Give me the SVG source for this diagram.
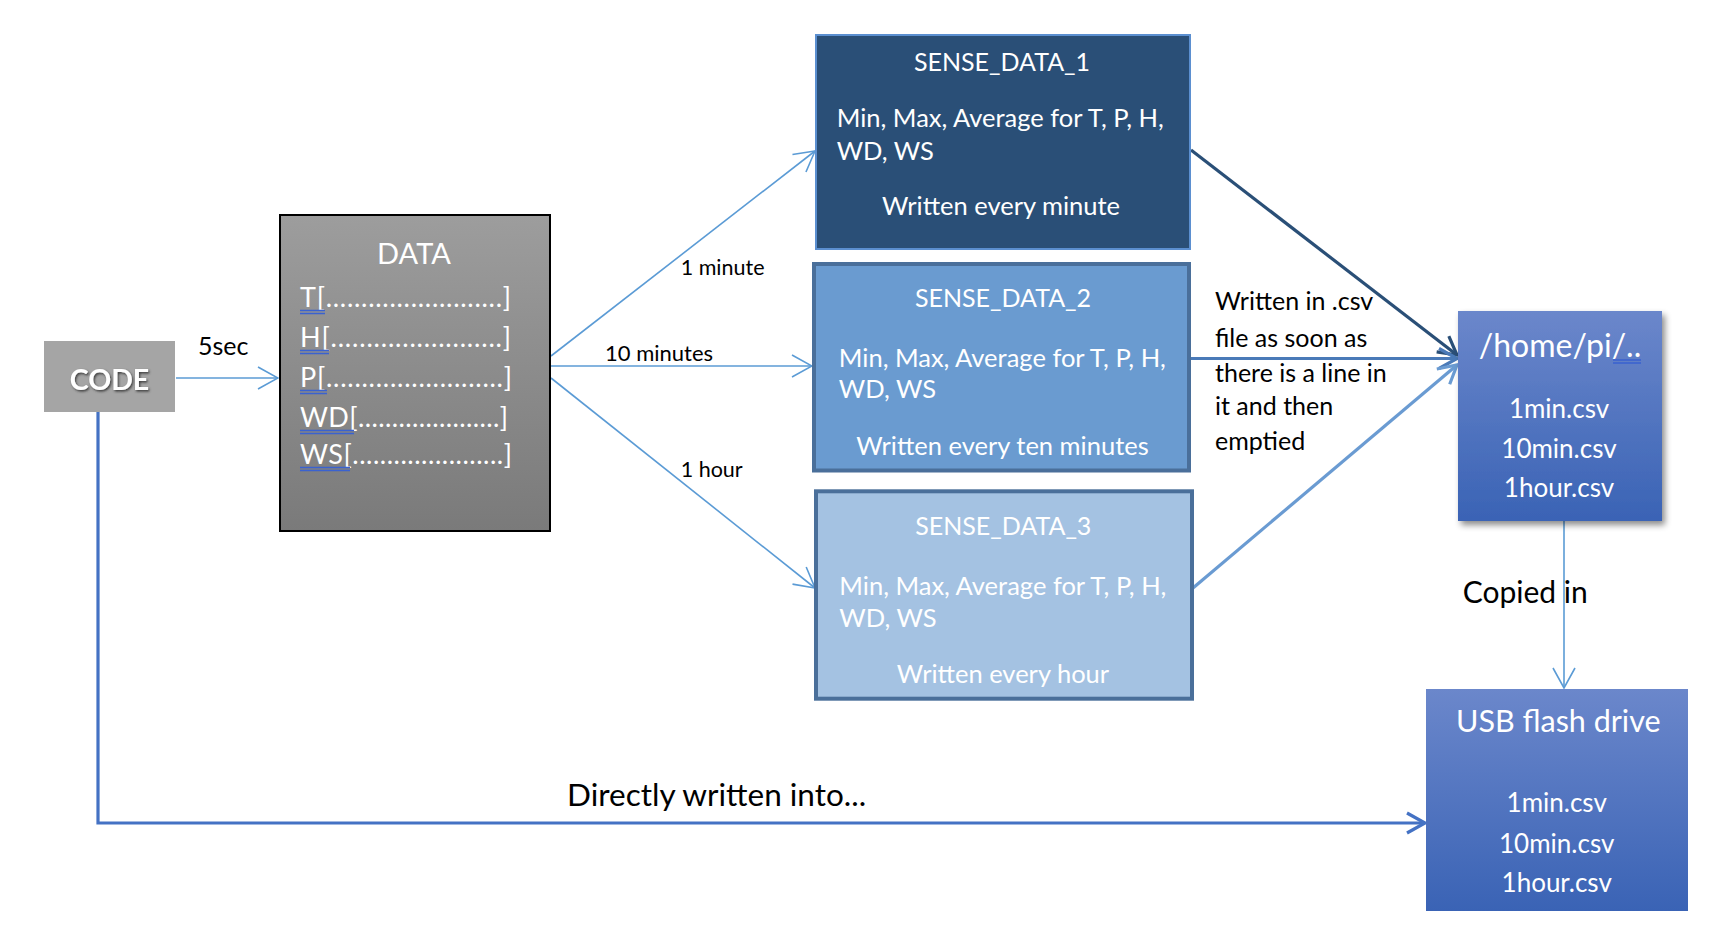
<svg xmlns="http://www.w3.org/2000/svg" width="1716" height="950" viewBox="0 0 1716 950">
<style>
.t{font-family:Lato,"Open Sans","Liberation Sans",sans-serif}
.w{fill:#ffffff}
.k{fill:#000000}
.m{text-anchor:middle}
.thin{stroke:#5b9bd5;stroke-width:1.6;fill:none}
.ul{stroke:#3a62d0;stroke-width:1.3;fill:none}
</style>
<defs>
<linearGradient id="gData" x1="0" y1="0" x2="0" y2="1"><stop offset="0" stop-color="#9d9d9d"/><stop offset="1" stop-color="#7a7a7a"/></linearGradient>
<linearGradient id="gBlue" x1="0" y1="0" x2="0" y2="1"><stop offset="0" stop-color="#6b87cb"/><stop offset="1" stop-color="#3a63b5"/></linearGradient>
<filter id="shadow" x="-10%" y="-10%" width="130%" height="130%"><feDropShadow dx="3" dy="4" stdDeviation="3" flood-color="#000" flood-opacity="0.45"/></filter>
<filter id="tshadow" x="-10%" y="-20%" width="130%" height="150%"><feDropShadow dx="1.2" dy="1.5" stdDeviation="0.8" flood-color="#333" flood-opacity="0.9"/></filter>
<marker id="aThin" markerUnits="userSpaceOnUse" viewBox="0 0 22 24" refX="21" refY="12" markerWidth="22" markerHeight="24" orient="auto"><path d="M1,1 L21,12 L1,23" fill="none" stroke="#5b9bd5" stroke-width="1.6"/></marker>
<marker id="aNavy" markerUnits="userSpaceOnUse" viewBox="0 0 22 24" refX="20" refY="12" markerWidth="22" markerHeight="24" orient="auto"><path d="M2,2 L20,12 L2,22" fill="none" stroke="#2a4f77" stroke-width="3.2"/></marker>
<marker id="aMid" markerUnits="userSpaceOnUse" viewBox="0 0 22 24" refX="20" refY="12" markerWidth="22" markerHeight="24" orient="auto"><path d="M2,2 L20,12 L2,22" fill="none" stroke="#4a7ab8" stroke-width="3.2"/></marker>
<marker id="aLight" markerUnits="userSpaceOnUse" viewBox="0 0 22 24" refX="20" refY="12" markerWidth="22" markerHeight="24" orient="auto"><path d="M2,2 L20,12 L2,22" fill="none" stroke="#6a9bd2" stroke-width="3.2"/></marker>
<marker id="aBlue" markerUnits="userSpaceOnUse" viewBox="0 0 22 24" refX="20" refY="12" markerWidth="22" markerHeight="24" orient="auto"><path d="M2,2 L20,12 L2,22" fill="none" stroke="#4472c4" stroke-width="3.2"/></marker>
</defs>
<rect width="1716" height="950" fill="#ffffff"/>

<g id="connectors">
<line class="thin" x1="176" y1="378" x2="278" y2="378" marker-end="url(#aThin)"/>
<line class="thin" x1="551" y1="356" x2="815" y2="151" marker-end="url(#aThin)"/>
<line class="thin" x1="551" y1="366" x2="812" y2="366" marker-end="url(#aThin)"/>
<line class="thin" x1="551" y1="378" x2="815" y2="588" marker-end="url(#aThin)"/>
<line x1="1191" y1="150" x2="1457" y2="355" stroke="#2a4f77" stroke-width="3.2" marker-end="url(#aNavy)"/>
<line x1="1191" y1="358.5" x2="1457" y2="358.5" stroke="#4a7ab8" stroke-width="3.2" marker-end="url(#aMid)"/>
<line x1="1193" y1="588" x2="1457" y2="365" stroke="#6a9bd2" stroke-width="3.2" marker-end="url(#aLight)"/>
<line class="thin" x1="1564" y1="521" x2="1564" y2="688" marker-end="url(#aThin)"/>
<polyline points="98,412 98,823 1425,823" fill="none" stroke="#4472c4" stroke-width="3.2" marker-end="url(#aBlue)"/>
<text class="t k" x="198" y="355" font-size="25">5sec</text>
<text class="t k" x="680.7" y="275" font-size="21.5">1 minute</text>
<text class="t k" x="605" y="360.7" font-size="22">10 minutes</text>
<text class="t k" x="680.7" y="476.7" font-size="21.5">1 hour</text>
<text class="t k" font-size="25"><tspan x="1215" y="310">Written in .csv</tspan><tspan x="1215" y="346.7">file as soon as</tspan><tspan x="1215" y="381.7">there is a line in</tspan><tspan x="1215" y="415">it and then</tspan><tspan x="1215" y="450">emptied</tspan></text>
<text class="t k" x="1462.7" y="602.7" font-size="30">Copied in</text>
<text class="t k" x="567" y="806" font-size="31.5">Directly written into...</text>
</g>

<g id="code">
<rect x="44" y="341" width="131" height="71" fill="#a5a5a5"/>
<text class="t w m" x="109.5" y="390" font-size="28.5" font-weight="bold" filter="url(#tshadow)">CODE</text>
</g>

<g id="data">
<rect x="280" y="215" width="270" height="316" fill="url(#gData)" stroke="#000" stroke-width="2"/>
<text class="t w m" x="414" y="264" font-size="29">DATA</text>
<text class="t w" font-size="27">
<tspan x="300" y="307" textLength="211">T[.........................]</tspan>
<tspan x="300" y="347" textLength="211">H[........................]</tspan>
<tspan x="300" y="387" textLength="212">P[.........................]</tspan>
<tspan x="300" y="427" textLength="208">WD[.....................]</tspan>
<tspan x="300" y="464" textLength="212">WS[......................]</tspan>
</text>
<path class="ul" d="M300,310.5 H325 M300,313.5 H325 M300,350.5 H329 M300,353.5 H329 M300,390.5 H327 M300,393.5 H327 M300,430.5 H354 M300,433.5 H354 M300,467.5 H350 M300,470.5 H350"/>
</g>

<g id="sense1">
<rect x="816" y="35" width="374" height="214" fill="#2a4f77" stroke="#5b8fd0" stroke-width="2"/>
<text class="t w m" x="1002" y="70.7" font-size="25">SENSE_DATA_1</text>
<text class="t w" font-size="25.5"><tspan x="836.7" y="127">Min, Max, Average for T, P, H,</tspan><tspan x="836.7" y="160">WD, WS</tspan></text>
<text class="t w m" x="1001" y="215" font-size="25.5">Written every minute</text>
</g>

<g id="sense2">
<rect x="814" y="264" width="375" height="206.5" fill="#6a9bd0" stroke="#4a6f9a" stroke-width="4"/>
<text class="t w m" x="1003" y="306.7" font-size="25">SENSE_DATA_2</text>
<text class="t w" font-size="25.5"><tspan x="838.8" y="367.3">Min, Max, Average for T, P, H,</tspan><tspan x="838.8" y="398.3">WD, WS</tspan></text>
<text class="t w m" x="1002.5" y="455" font-size="25.5">Written every ten minutes</text>
</g>

<g id="sense3">
<rect x="816" y="491.3" width="376" height="207.4" fill="#a4c2e2" stroke="#4a6f9a" stroke-width="4"/>
<text class="t w m" x="1003.3" y="535" font-size="25">SENSE_DATA_3</text>
<text class="t w" font-size="25.5"><tspan x="839.3" y="595">Min, Max, Average for T, P, H,</tspan><tspan x="839.3" y="626.7">WD, WS</tspan></text>
<text class="t w m" x="1003" y="683" font-size="25.5">Written every hour</text>
</g>

<g id="home">
<rect x="1458" y="311" width="204" height="210" fill="url(#gBlue)" filter="url(#shadow)"/>
<text class="t w m" x="1560" y="356.7" font-size="32">/home/pi/..</text>
<path class="ul" d="M1613,360 H1641 M1613,363 H1641"/>
<text class="t w m" font-size="26"><tspan x="1559" y="418.3">1min.csv</tspan><tspan x="1559" y="458.3">10min.csv</tspan><tspan x="1559" y="497.3">1hour.csv</tspan></text>
</g>

<g id="usb">
<rect x="1426" y="689" width="262" height="222" fill="url(#gBlue)"/>
<text class="t w m" x="1558.3" y="732.3" font-size="30.5">USB flash drive</text>
<text class="t w m" font-size="26"><tspan x="1556.7" y="811.7">1min.csv</tspan><tspan x="1556.7" y="852.7">10min.csv</tspan><tspan x="1556.7" y="892.3">1hour.csv</tspan></text>
</g>
</svg>
